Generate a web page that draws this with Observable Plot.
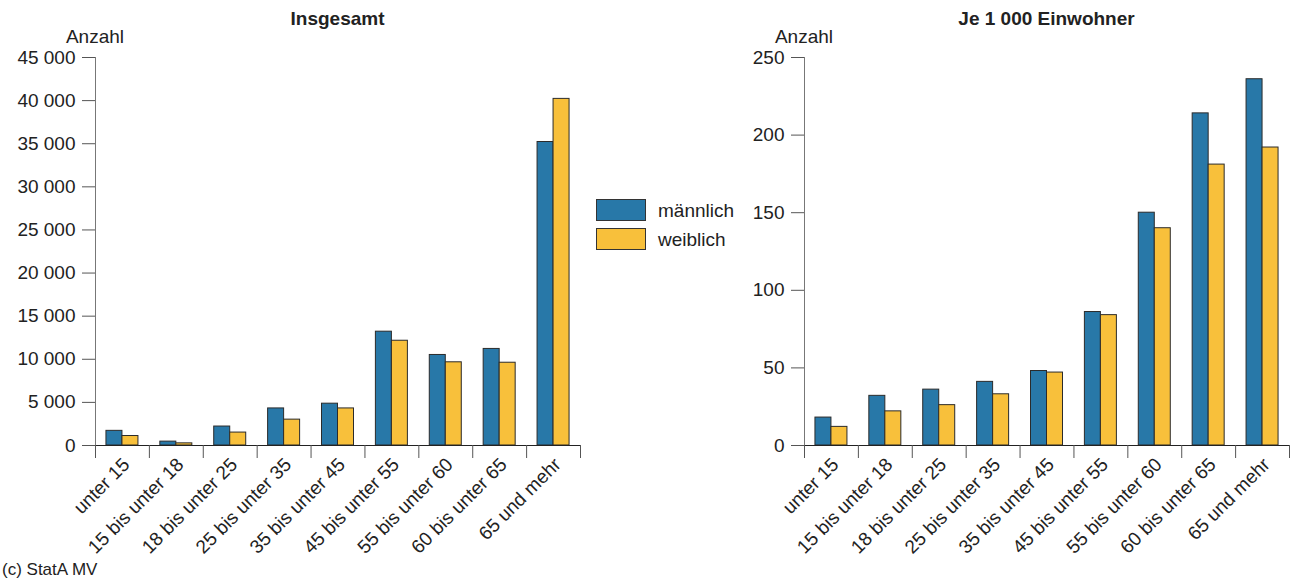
<!DOCTYPE html>
<html><head><meta charset="utf-8">
<script src="https://cdn.jsdelivr.net/npm/d3@7"></script>
<script src="https://cdn.jsdelivr.net/npm/@observablehq/plot@0.6"></script>
<style>
body{margin:0;background:#fff;font-family:"Liberation Sans",Arial,sans-serif;color:#222}
#wrap{position:relative;width:1293px;height:578px;overflow:hidden;background:#fff}
.abs{position:absolute;white-space:nowrap;line-height:1}
.chart{position:absolute;top:0}
.sw{position:absolute;width:48px;height:20px;border:1px solid #333;box-sizing:content-box}
</style></head><body><div id="wrap"></div>
<script>
// ---- data ----
const categories = ["unter 15","15 bis unter 18","18 bis unter 25","25 bis unter 35","35 bis unter 45","45 bis unter 55","55 bis unter 60","60 bis unter 65","65 und mehr"];
const maleTotal = [1700, 450, 2200, 4300, 4850, 13200, 10500, 11200, 35200];
const femaleTotal = [1100, 250, 1500, 3000, 4300, 12150, 9650, 9600, 40200];
const malePer1000 = [18, 32, 36, 41, 48, 86, 150, 214, 236];
const femalePer1000 = [12, 22, 26, 33, 47, 84, 140, 181, 192];
const ticksTotal = [0, 5000, 10000, 15000, 20000, 25000, 30000, 35000, 40000, 45000];
const ticksPer1000 = [0, 50, 100, 150, 200, 250];
const seriesNames = ["männlich", "weiblich"];
const titles = ["Insgesamt", "Je 1 000 Einwohner"];
const yLabel = "Anzahl";
const source = "(c) StatA MV";

// ---- style ----
const colors = ["#2878a8", "#f8c03b"];
const FONT = '"Liberation Sans", Arial, sans-serif';
const W = 584, H = 578, ML = 95, MR = 4, MT = 57, MB = 133;
const bw = (W - ML - MR) / categories.length;
const barW = 16, gap = (bw - 2 * barW) / 2;
const de = d3.formatLocale({decimal: ",", thousands: "\u00a0", grouping: [3], currency: ["", " €"]});
const fmt = de.format(",");

function makeChart(male, female, ticks) {
  const rows = categories.map((c, i) => ({c, m: male[i], f: female[i]}));
  return Plot.plot({
    width: W, height: H, marginLeft: ML, marginRight: MR, marginTop: MT, marginBottom: MB,
    style: {fontFamily: FONT, fontSize: "19px", color: "#222", background: "transparent", overflow: "visible"},
    x: {type: "band", domain: categories, padding: 0, round: false, axis: null},
    y: {domain: [0, ticks[ticks.length - 1]], axis: null},
    marks: [
      Plot.barY(rows, {x: "c", y: "m", fill: colors[0], stroke: "#2b2b2b", strokeWidth: 1, insetLeft: gap, insetRight: gap + barW}),
      Plot.barY(rows, {x: "c", y: "f", fill: colors[1], stroke: "#2b2b2b", strokeWidth: 1, insetLeft: gap + barW, insetRight: gap}),
      Plot.axisY(ticks, {tickSize: 13, tickPadding: 7, tickFormat: fmt, stroke: "#555", label: null}),
      Plot.frame({anchor: "left", stroke: "#777"}),
      Plot.ruleY([0], {stroke: "#222"}),
      Plot.axisX(categories, {tickSize: 13, tickFormat: () => "", dx: -bw / 2, stroke: "#555", label: null}),
      Plot.axisX([categories[categories.length - 1]], {tickSize: 13, tickFormat: () => "", dx: bw / 2, stroke: "#555", label: null}),
      Plot.axisX(categories, {tickSize: 0, tickPadding: 16, tickRotate: -45, dx: 4, label: null})
    ]
  });
}

const wrap = document.getElementById("wrap");
const c1 = makeChart(maleTotal, femaleTotal, ticksTotal);
c1.classList.add("chart"); c1.style.left = "0px";
const c2 = makeChart(malePer1000, femalePer1000, ticksPer1000);
c2.classList.add("chart"); c2.style.left = "709px";
wrap.appendChild(c1); wrap.appendChild(c2);

function addText(txt, x, y, size, weight, center) {
  const d = document.createElement("div");
  d.className = "abs";
  d.textContent = txt;
  d.style.left = x + "px"; d.style.top = y + "px";
  d.style.fontSize = size + "px";
  d.style.fontWeight = weight;
  if (center) d.style.transform = "translateX(-50%)";
  wrap.appendChild(d);
}
const plotCenters = [ML + (W - ML - MR) / 2, 709 + ML + (W - ML - MR) / 2];
addText(titles[0], plotCenters[0], 9, 19, "bold", true);
addText(titles[1], plotCenters[1], 9, 19, "bold", true);
addText(yLabel, ML, 27, 19, "normal", true);
addText(yLabel, 709 + ML, 27, 19, "normal", true);
addText(source, 2, 561, 17, "normal", false);

seriesNames.forEach((n, i) => {
  const s = document.createElement("div");
  s.className = "sw";
  s.style.left = "596px"; s.style.top = (199 + i * 29) + "px";
  s.style.background = colors[i];
  wrap.appendChild(s);
  addText(n, 658, 201 + i * 29, 19, "normal", false);
});
</script></body></html>
